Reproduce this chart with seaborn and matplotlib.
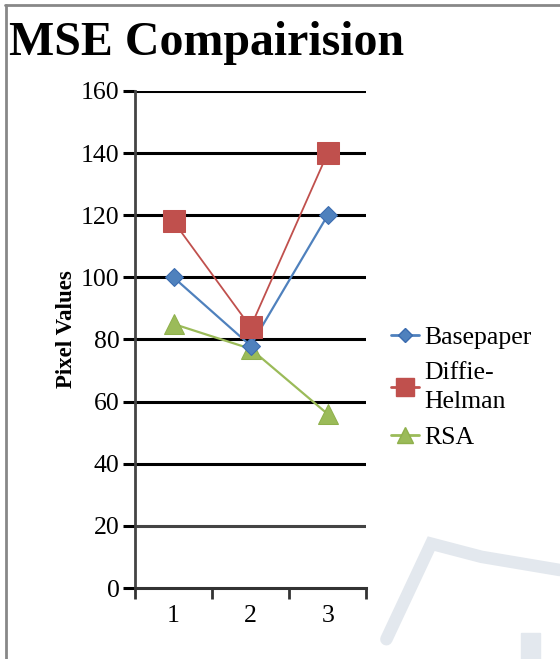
import matplotlib
matplotlib.use("Agg")
import matplotlib.pyplot as plt
from matplotlib.lines import Line2D
from matplotlib.patches import Rectangle
import seaborn as sns
import pandas as pd

# Data
samples = [1, 2, 3]
basepaper = [100, 78, 120]
diffie_helman = [118, 84, 140]
rsa = [85, 77, 56]
series_names = ["Basepaper", "Diffie-\nHelman", "RSA"]
y_ticks = [0, 20, 40, 60, 80, 100, 120, 140, 160]

sns.set_theme(style="white")
plt.rcParams["font.family"] = ["Liberation Serif", "DejaVu Serif"]
plt.rcParams["text.color"] = "black"
plt.rcParams["axes.labelcolor"] = "black"
plt.rcParams["xtick.color"] = "black"
plt.rcParams["ytick.color"] = "black"

df = pd.DataFrame({
    "Sample": samples * 3,
    "Value": basepaper + diffie_helman + rsa,
    "Series": [series_names[0]] * 3 + [series_names[1]] * 3 + [series_names[2]] * 3,
})

fig = plt.figure(figsize=(5.6, 6.59), dpi=100)
ax = fig.add_axes([0.241, 0.1077, 0.413, 0.7543])

styles = {
    series_names[0]: dict(color="#4F81BD", marker="D", ms=9.5, mec="#3A6BAF", lw=1.6, zorder=4),
    series_names[1]: dict(color="#C0504D", marker="s", ms=16, mec="#C0504D", lw=1.3, zorder=5),
    series_names[2]: dict(color="#9BBB59", marker="^", ms=14, mec="#8FB04C", lw=1.6, zorder=3),
}

for name in series_names:
    st = styles[name]
    sub = df[df["Series"] == name]
    sns.lineplot(data=sub, x="Sample", y="Value", ax=ax, color=st["color"],
                 marker=st["marker"], markersize=st["ms"], markeredgecolor=st["mec"],
                 linewidth=st["lw"], label=name, zorder=st["zorder"], legend=False)

ax.set_xlim(0.5, 3.5)
ax.set_ylim(0, 160)
ax.set_yticks(y_ticks)
ax.set_yticklabels([str(v) for v in y_ticks])

# category labels centred, tick marks between categories
ax.set_xticks([0.5, 1.5, 2.5, 3.5])
ax.set_xticklabels([])
ax.set_xticks(samples, minor=True)
ax.set_xticklabels([str(s) for s in samples], minor=True)
ax.tick_params(axis="x", which="major", direction="out", length=8, width=2, color="#333333", bottom=True)
ax.tick_params(axis="x", which="minor", length=0, pad=12, labelsize=18.5)
ax.tick_params(axis="y", direction="out", length=9, width=2.2, color="black", left=True, labelsize=18.5, pad=2)

# horizontal gridlines
for v in y_ticks[1:]:
    ax.axhline(v, color="#444444" if v == 20 else "black", lw=2.2, zorder=1)

for s in ["top", "right"]:
    ax.spines[s].set_visible(False)
ax.spines["left"].set_color("#444444")
ax.spines["left"].set_linewidth(2)
ax.spines["bottom"].set_color("#333333")
ax.spines["bottom"].set_linewidth(2.2)

ax.set_xlabel("")
ax.set_ylabel("Pixel Values", fontsize=16.5, fontweight="bold")
ax.yaxis.set_label_coords(-0.252, 0.52)

# legend
handles = [Line2D([0], [0], color=styles[n]["color"], marker=styles[n]["marker"],
                  markersize=styles[n]["ms"] * 0.8, markeredgecolor=styles[n]["mec"],
                  lw=2) for n in series_names]
leg = fig.legend(handles, series_names, loc="center left", bbox_to_anchor=(0.657, 0.412),
                 frameon=False, fontsize=18.5, handlelength=1.1, handletextpad=0.2,
                 labelspacing=0.5)
for t in leg.get_texts():
    t.set_linespacing(1.45)

# title
fig.text(0.016, 0.917, "MSE Compairision", fontsize=34.5, fontweight="bold", ha="left", va="baseline")

# faint background emblem
fig.add_artist(Line2D([0.69, 0.77, 0.86, 1.0], [0.03, 0.175, 0.155, 0.135],
                      transform=fig.transFigure, color="#E3E8EE", lw=9, zorder=0,
                      solid_joinstyle="miter"))
fig.add_artist(Rectangle((0.93, 0.0), 0.035, 0.04, transform=fig.transFigure,
                         color="#E3E8EE", zorder=0))

# frame
fig.add_artist(Line2D([0.009, 1.0], [0.992, 0.992], transform=fig.transFigure, color="#888888", lw=2))
fig.add_artist(Line2D([0.011, 0.011], [0.0, 0.992], transform=fig.transFigure, color="#888888", lw=2))

fig.savefig("out.png", dpi=100)
